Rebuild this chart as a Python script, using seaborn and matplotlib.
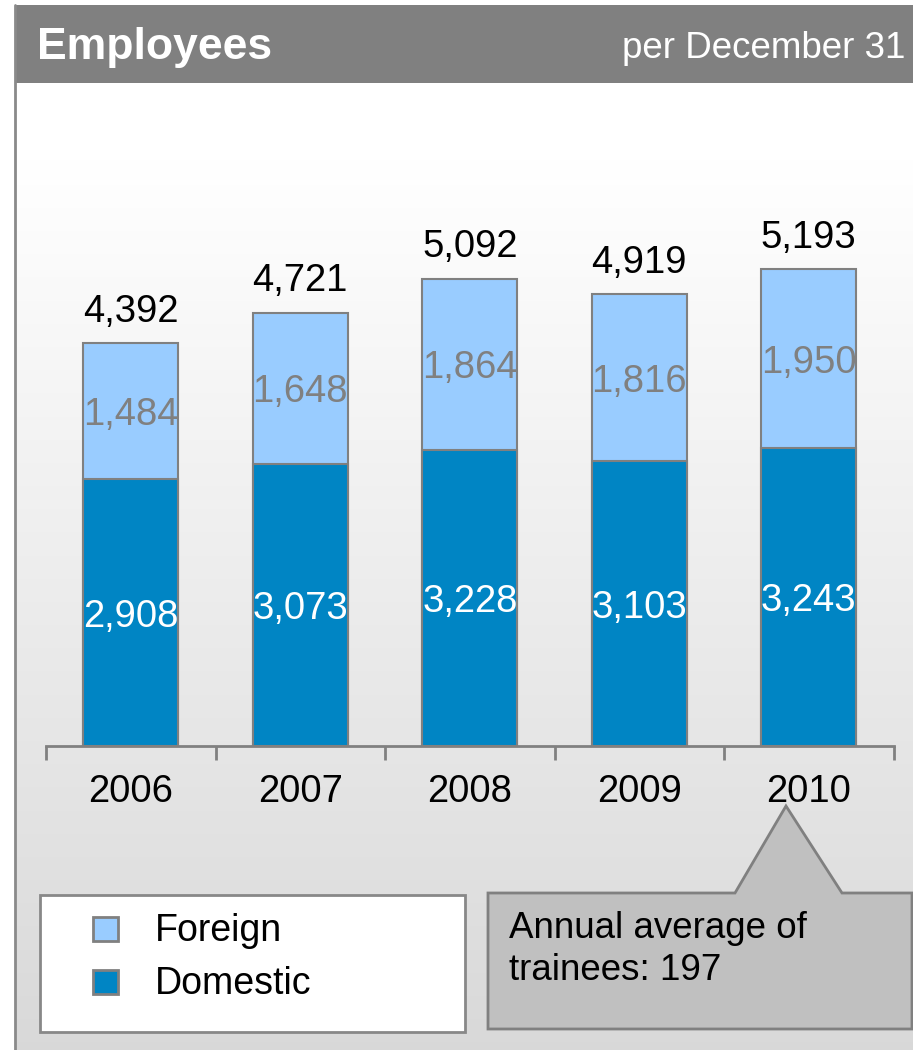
import numpy as np
import pandas as pd
import matplotlib.pyplot as plt
import matplotlib.patches as mpatches
import seaborn as sns

# data
years = ["2006", "2007", "2008", "2009", "2010"]
domestic = [2908, 3073, 3228, 3103, 3243]
foreign = [1484, 1648, 1864, 1816, 1950]
totals = [4392, 4721, 5092, 4919, 5193]

DOM_COLOR = "#0085C4"
FOR_COLOR = "#99CCFF"
EDGE = "#808080"
FS = 27.5

sns.set_theme(style="white")
plt.rcParams["font.family"] = ["Liberation Sans", "DejaVu Sans"]

W, H = 913, 1050
fig = plt.figure(figsize=(W / 100, H / 100), dpi=100)

# background / frame layer in pixel coords
bg = fig.add_axes([0, 0, 1, 1])
bg.set_xlim(0, W)
bg.set_ylim(H, 0)
bg.axis("off")
ys = np.linspace(83, H, 256)
shade = np.clip(1.0 - 0.15 * (ys - 160) / (H - 160), 0.85, 1.0)
bg.imshow(np.repeat(shade.reshape(-1, 1, 1), 3, axis=2), extent=[15, W, H, 83],
          aspect="auto", zorder=0, interpolation="bilinear")
bg.add_patch(mpatches.Rectangle((15, 5), W - 15, 78, facecolor="#808080",
                                edgecolor="none", zorder=1))
bg.plot([15, 15], [5, H], color="#8a8a8a", lw=2, zorder=2)
bg.text(37, 47, "Employees", color="white", fontsize=32, fontweight="bold",
        va="center", ha="left", zorder=3)
bg.text(905, 49, "per December 31", color="white", fontsize=26.5,
        va="center", ha="right", zorder=3)

# legend box
bg.add_patch(mpatches.Rectangle((40, 895), 425, 137, facecolor="white",
                                edgecolor="#888888", lw=2, zorder=2))
for yc, col, lab in [(929, FOR_COLOR, "Foreign"), (982, DOM_COLOR, "Domestic")]:
    bg.add_patch(mpatches.Rectangle((93, yc - 12), 25, 24, facecolor=col,
                                    edgecolor="#808080", lw=2, zorder=3))
    bg.text(155, yc + 2, lab, fontsize=27, va="center", ha="left", color="black", zorder=3)

# callout box
callout = [(488, 893), (735, 893), (786, 806), (842, 893), (912, 893),
           (912, 1029), (488, 1029)]
bg.add_patch(mpatches.Polygon(callout, closed=True, facecolor="#c0c0c0",
                              edgecolor="#808080", lw=2, zorder=2))
bg.text(509, 928, "Annual average of", fontsize=26.5, va="center", ha="left",
        color="black", zorder=3)
bg.text(509, 971, "trainees: 197", fontsize=26.5, va="center", ha="left",
        color="black", zorder=3)

# chart axes
x0, x1 = 46, 893.5
ybase = 746
px_per_unit = 0.0918
ymax = 6000
ytop = ybase - ymax * px_per_unit
ax = fig.add_axes([x0 / W, 1 - ybase / H, (x1 - x0) / W, (ybase - ytop) / H])
ax.patch.set_alpha(0)

df = pd.DataFrame({"year": years, "domestic": domestic, "total": totals})
sns.barplot(data=df, x="year", y="total", color=FOR_COLOR, saturation=1,
            width=0.56, edgecolor=EDGE, linewidth=1.5, ax=ax)
sns.barplot(data=df, x="year", y="domestic", color=DOM_COLOR, saturation=1,
            width=0.56, edgecolor=EDGE, linewidth=1.5, ax=ax)

ax.set_xlim(-0.5, 4.5)
ax.set_ylim(0, ymax)
ax.set_xlabel("")
ax.set_ylabel("")
ax.set_yticks([])
for s in ["left", "right", "top"]:
    ax.spines[s].set_visible(False)
ax.spines["bottom"].set_color(EDGE)
ax.spines["bottom"].set_linewidth(2)
ax.set_xticks(range(len(years)))
ax.set_xticklabels(years, fontsize=FS, color="black")
ax.set_xticks(np.arange(-0.5, 5, 1), minor=True)
ax.tick_params(axis="x", which="major", bottom=True, length=0, pad=20.5)
ax.tick_params(axis="x", which="minor", bottom=True, length=10, width=2, color=EDGE)

for i in range(len(years)):
    ax.text(i, domestic[i] / 2, f"{domestic[i]:,}", ha="center",
            va="center_baseline", fontsize=FS, color="white")
    ax.text(i, domestic[i] + foreign[i] / 2, f"{foreign[i]:,}", ha="center",
            va="center_baseline", fontsize=FS, color="#808080")
    ax.text(i, totals[i] + 230, f"{totals[i]:,}", ha="center", va="baseline",
            fontsize=FS, color="black")

fig.savefig("out.png", dpi=100)
